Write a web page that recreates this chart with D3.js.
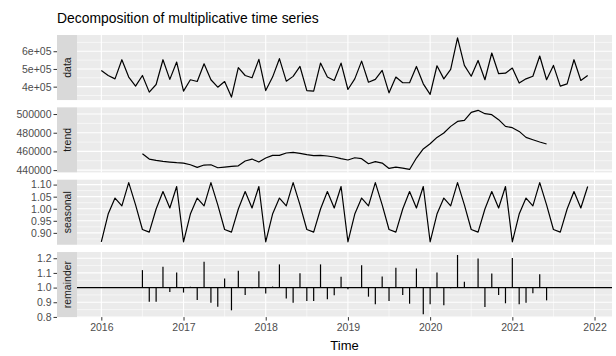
<!DOCTYPE html>
<html>
<head>
<meta charset="utf-8">
<script src="https://cdn.jsdelivr.net/npm/d3@7"></script>
<style>
  html, body { margin: 0; padding: 0; background: #ffffff; }
  svg { display: block; font-family: "Liberation Sans", Arial, Helvetica, sans-serif; }
</style>
</head>
<body>
<svg id="chart" width="616" height="356"></svg>
<script>
// Monthly series, January 2016 to December 2021
const startYear = 2016;
const frequency = 12;

const observed = [
  491000, 463000, 444000, 552000, 454000, 403000, 463000, 369000, 412000, 552000, 441000, 539000,
  375000, 439000, 429000, 529000, 439000, 397000, 429000, 341000, 507000, 463000, 450000, 554000,
  378000, 454000, 558000, 431000, 458000, 514000, 378000, 375000, 533000, 454000, 435000, 533000,
  384000, 444000, 544000, 425000, 441000, 492000, 365000, 454000, 422000, 422000, 514000, 416000,
  356000, 518000, 444000, 497000, 675000, 520000, 459000, 548000, 439000, 590000, 473000, 476000,
  505000, 420000, 444000, 459000, 573000, 439000, 520000, 403000, 416000, 552000, 435000, 463000
];

// Centred moving average: undefined for the first and last six months
const trend = [
  null, null, null, null, null, null,
  457500, 451800, 450400, 449300, 448600, 447900,
  447500, 445700, 442900, 445400, 445700, 442500, 443200, 443900, 444600, 449700, 451800, 448600,
  452900, 455700, 455700, 458300, 458900, 457900, 456600, 455500, 455700, 455100, 454000, 452200,
  450800, 453200, 452200, 446800, 449000, 447500, 441800, 443200, 442200, 440700, 452900, 462600,
  468200, 475000, 479700, 486800, 492100, 493200, 501800, 504000, 500400, 499300, 494000, 486800,
  485400, 481400, 475000, 472500, 470100, 467900,
  null, null, null, null, null, null
];

const seasonal = [
  0.863, 0.978, 1.044, 1.012, 1.108, 1.016, 0.914, 0.903, 0.999, 1.071, 1.003, 1.092,
  0.863, 0.978, 1.044, 1.012, 1.108, 1.016, 0.914, 0.903, 0.999, 1.071, 1.003, 1.092,
  0.863, 0.978, 1.044, 1.012, 1.108, 1.016, 0.914, 0.903, 0.999, 1.071, 1.003, 1.092,
  0.863, 0.978, 1.044, 1.012, 1.108, 1.016, 0.914, 0.903, 0.999, 1.071, 1.003, 1.092,
  0.863, 0.978, 1.044, 1.012, 1.108, 1.016, 0.914, 0.903, 0.999, 1.071, 1.003, 1.092,
  0.863, 0.978, 1.044, 1.012, 1.108, 1.016, 0.914, 0.903, 0.999, 1.071, 1.003, 1.092
];

const remainder = [
  null, null, null, null, null, null,
  1.119, 0.904, 0.904, 1.142, 0.970, 1.103,
  0.966, 1.005, 0.916, 1.176, 0.897, 0.870, 1.062, 0.845, 1.114, 0.950, 0.996, 1.112,
  0.959, 1.007, 1.158, 0.925, 0.897, 1.098, 0.909, 0.909, 1.158, 0.920, 0.947, 1.073,
  0.989, 1.002, 1.153, 0.938, 0.886, 1.075, 0.909, 1.135, 0.950, 0.890, 1.130, 0.819,
  0.886, 1.103, 0.879, 0.996, 1.222, 1.039, 0.998, 1.199, 0.868, 1.096, 0.950, 0.893,
  1.201, 0.886, 0.897, 0.961, 1.091, 0.913,
  null, null, null, null, null, null
];

const panelNames = ["data", "trend", "seasonal", "remainder"];
const yTicks = {
  data: [400000, 500000, 600000],
  trend: [440000, 460000, 480000, 500000],
  seasonal: [0.90, 0.95, 1.00, 1.05, 1.10],
  remainder: [0.8, 0.9, 1.0, 1.1, 1.2]
};
const yTickLabels = {
  data: ["4e+05", "5e+05", "6e+05"],
  trend: ["440000", "460000", "480000", "500000"],
  seasonal: ["0.90", "0.95", "1.00", "1.05", "1.10"],
  remainder: ["0.8", "0.9", "1.0", "1.1", "1.2"]
};
const yMinorTicks = {
  data: [350000, 450000, 550000, 650000],
  trend: [450000, 470000, 490000],
  seasonal: [0.875, 0.925, 0.975, 1.025, 1.075],
  remainder: [0.85, 0.95, 1.05, 1.15]
};
const xTicks = [2016, 2017, 2018, 2019, 2020, 2021, 2022];
const xMinorTicks = [2016.5, 2017.5, 2018.5, 2019.5, 2020.5, 2021.5];

const titleText = "Decomposition of multiplicative time series";
const xTitle = "Time";

// ---- layout ----
const svg = d3.select("#chart");
const plotLeft = 77, plotRight = 612;
const stripW = 20;
const panelTop = 35, panelH = 65.05, panelGap = 7.3;
const ink = "#000000";

const times = observed.map((_, i) => startYear + i / frequency);
const series = { data: observed, trend: trend, seasonal: seasonal, remainder: remainder };

// ggplot-style 5% expansion of a continuous domain
function expand(lo, hi) {
  const pad = (hi - lo) * 0.05;
  return [lo - pad, hi + pad];
}

const x = d3.scaleLinear()
  .domain(expand(d3.min(times), d3.max(times)))
  .range([plotLeft, plotRight]);

svg.append("text")
  .attr("x", plotLeft - stripW)
  .attr("y", 23)
  .attr("font-size", 13.9)
  .attr("fill", "#000")
  .text(titleText);

panelNames.forEach((name, p) => {
  const top = panelTop + p * (panelH + panelGap);
  const bottom = top + panelH;
  const vals = series[name].map((v, i) => ({ t: times[i], v }));
  const defined = vals.filter(d => d.v != null);
  let lo = d3.min(defined, d => d.v), hi = d3.max(defined, d => d.v);
  if (name === "remainder") { lo = Math.min(lo, 1); hi = Math.max(hi, 1); }
  const y = d3.scaleLinear().domain(expand(lo, hi)).range([bottom, top]);

  const g = svg.append("g");

  // panel background
  g.append("rect")
    .attr("x", plotLeft).attr("y", top)
    .attr("width", plotRight - plotLeft).attr("height", panelH)
    .attr("fill", "#EBEBEB");

  // minor grid
  g.selectAll(".ymin").data(yMinorTicks[name]).join("line")
    .attr("x1", plotLeft).attr("x2", plotRight)
    .attr("y1", d => y(d)).attr("y2", d => y(d))
    .attr("stroke", "#fff").attr("stroke-width", 0.55);
  g.selectAll(".xmin").data(xMinorTicks).join("line")
    .attr("y1", top).attr("y2", bottom)
    .attr("x1", d => x(d)).attr("x2", d => x(d))
    .attr("stroke", "#fff").attr("stroke-width", 0.55);

  // major grid
  g.selectAll(".ymaj").data(yTicks[name]).join("line")
    .attr("x1", plotLeft).attr("x2", plotRight)
    .attr("y1", d => y(d)).attr("y2", d => y(d))
    .attr("stroke", "#fff").attr("stroke-width", 1.1);
  g.selectAll(".xmaj").data(xTicks).join("line")
    .attr("y1", top).attr("y2", bottom)
    .attr("x1", d => x(d)).attr("x2", d => x(d))
    .attr("stroke", "#fff").attr("stroke-width", 1.1);

  // strip on the left
  g.append("rect")
    .attr("x", plotLeft - stripW).attr("y", top)
    .attr("width", stripW).attr("height", panelH)
    .attr("fill", "#D9D9D9");
  g.append("text")
    .attr("transform", `translate(${plotLeft - stripW / 2},${top + panelH / 2}) rotate(-90)`)
    .attr("text-anchor", "middle")
    .attr("dominant-baseline", "central")
    .attr("font-size", 10.5)
    .attr("fill", "#1A1A1A")
    .text(name);

  // y axis, placed outside the strip
  const labels = yTickLabels[name];
  const yAxis = d3.axisLeft(y)
    .tickValues(yTicks[name])
    .tickFormat((d, i) => labels[i])
    .tickSize(3.5)
    .tickPadding(2);
  const ax = svg.append("g")
    .attr("transform", `translate(${plotLeft - stripW},0)`)
    .call(yAxis);
  ax.select(".domain").remove();
  ax.selectAll(".tick line").attr("stroke", "#333333").attr("stroke-width", 1);
  ax.selectAll(".tick text")
    .attr("fill", "#4D4D4D")
    .attr("font-size", 10.5)
    .attr("font-family", "Liberation Sans, Arial, sans-serif");

  const clipId = "clip" + p;
  svg.append("clipPath").attr("id", clipId)
    .append("rect").attr("x", plotLeft).attr("y", top)
    .attr("width", plotRight - plotLeft).attr("height", panelH);
  const marks = svg.append("g").attr("clip-path", `url(#${clipId})`);

  if (name === "remainder") {
    marks.append("line")
      .attr("x1", plotLeft).attr("x2", plotRight)
      .attr("y1", y(1)).attr("y2", y(1))
      .attr("stroke", ink).attr("stroke-width", 1.2);
    marks.selectAll(".seg").data(defined).join("line")
      .attr("x1", d => x(d.t)).attr("x2", d => x(d.t))
      .attr("y1", y(1)).attr("y2", d => y(d.v))
      .attr("stroke", ink).attr("stroke-width", 1.2);
  } else {
    const line = d3.line()
      .defined(d => d.v != null)
      .x(d => x(d.t)).y(d => y(d.v));
    marks.append("path")
      .datum(vals)
      .attr("d", line)
      .attr("fill", "none")
      .attr("stroke", ink)
      .attr("stroke-width", 1.2)
      .attr("stroke-linejoin", "round");
  }

  if (p === panelNames.length - 1) {
    const xAxis = d3.axisBottom(x)
      .tickValues(xTicks)
      .tickFormat(d3.format("d"))
      .tickSize(3.5)
      .tickPadding(2.5);
    const axb = svg.append("g")
      .attr("transform", `translate(0,${bottom})`)
      .call(xAxis);
    axb.select(".domain").remove();
    axb.selectAll(".tick line").attr("stroke", "#333333").attr("stroke-width", 1);
    axb.selectAll(".tick text")
      .attr("fill", "#4D4D4D")
      .attr("font-size", 10.5)
      .attr("font-family", "Liberation Sans, Arial, sans-serif");

    svg.append("text")
      .attr("x", (plotLeft + plotRight) / 2)
      .attr("y", 350)
      .attr("text-anchor", "middle")
      .attr("font-size", 13)
      .attr("fill", "#000")
      .text(xTitle);
  }
});
</script>
</body>
</html>
